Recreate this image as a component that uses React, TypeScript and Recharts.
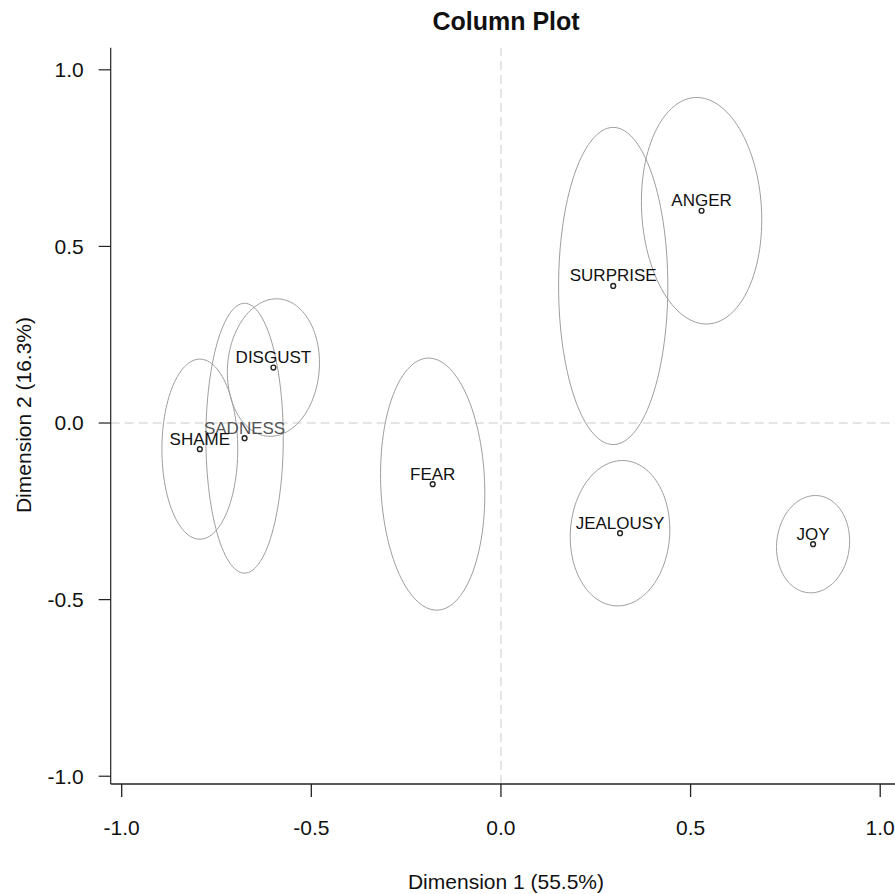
import { ScatterChart, Scatter, XAxis, YAxis, ReferenceLine } from 'recharts'

const FONT = '"Liberation Sans", Arial, sans-serif'

// column coordinates
const categories = ['ANGER', 'DISGUST', 'FEAR', 'JEALOUSY', 'JOY', 'SADNESS', 'SHAME', 'SURPRISE']
const dim1 = [0.529, -0.600, -0.180, 0.314, 0.823, -0.676, -0.794, 0.296]
const dim2 = [0.601, 0.157, -0.173, -0.312, -0.343, -0.043, -0.074, 0.388]

// confidence ellipses: semi-axes (data units) and tilt in degrees
const ellipseRx = [0.158, 0.121, 0.137, 0.131, 0.096, 0.102, 0.100, 0.144]
const ellipseRy = [0.321, 0.195, 0.357, 0.206, 0.138, 0.382, 0.255, 0.449]
const ellipseTilt = [3, -4, 2, -3, -5, 0, 0, 0]

const xTicks = [-1, -0.5, 0, 0.5, 1]
const yTicks = [-1, -0.5, 0, 0.5, 1]

const W = 895
const H = 894

const points = categories.map((name, i) => ({ name, x: dim1[i], y: dim2[i] }))

// outline of ellipse i, traced in data space so the chart scales place it
function ellipseOutline(i: number) {
  const n = 120
  const th = (ellipseTilt[i] * Math.PI) / 180
  const out: { x: number; y: number }[] = []
  for (let k = 0; k <= n; k++) {
    const t = (2 * Math.PI * k) / n
    const ex = ellipseRx[i] * Math.cos(t)
    const ey = ellipseRy[i] * Math.sin(t)
    out.push({
      x: dim1[i] + ex * Math.cos(th) - ey * Math.sin(th),
      y: dim2[i] + ex * Math.sin(th) + ey * Math.cos(th),
    })
  }
  return out
}

const NoDot = () => <g />

function PointShape(props: any) {
  const { cx, cy, payload } = props
  const grey = payload.name === 'SADNESS'
  return (
    <g>
      <circle cx={cx} cy={cy} r={2.4} fill="none" stroke="#222" strokeWidth={1.4} />
      <text
        x={cx}
        y={cy - 4.5}
        textAnchor="middle"
        fontSize={17}
        fontFamily={FONT}
        fill={grey ? '#555' : '#111'}
      >
        {payload.name}
      </text>
    </g>
  )
}

export default function App() {
  const tick = { fill: '#111', fontSize: 21, fontFamily: FONT }
  return (
    <div style={{ position: 'absolute', left: 0, top: 0, width: W, height: H, background: '#fff', overflow: 'hidden' }}>
      <ScatterChart
        width={W}
        height={H}
        margin={{ top: 47.7, right: 0, left: 30.7, bottom: 50 }}
      >
        <XAxis
          type="number"
          dataKey="x"
          domain={[-1.029, 1.039]}
          allowDataOverflow
          ticks={xTicks}
          tickFormatter={(v: number) => v.toFixed(1)}
          tick={tick}
          tickSize={13}
          tickMargin={23}
          height={60}
          stroke="#222"
          strokeWidth={1.3}
        />
        <YAxis
          type="number"
          dataKey="y"
          domain={[-1.022, 1.0626]}
          allowDataOverflow
          ticks={yTicks}
          tickFormatter={(v: number) => v.toFixed(1)}
          tick={tick}
          tickSize={12}
          tickMargin={15}
          width={80}
          stroke="#222"
          strokeWidth={1.2}
        />
        <ReferenceLine x={0} stroke="#cccccc" strokeDasharray="9 5" strokeWidth={1} />
        <ReferenceLine y={0} stroke="#cccccc" strokeDasharray="9 5" strokeWidth={1} />
        {categories.map((c, i) => (
          <Scatter
            key={c}
            name={c + ' ellipse'}
            data={ellipseOutline(i)}
            line={{ stroke: '#9e9e9e', strokeWidth: 1 }}
            lineType="joint"
            shape={NoDot}
            isAnimationActive={false}
          />
        ))}
        <Scatter data={points} shape={PointShape} isAnimationActive={false} />
      </ScatterChart>
      <svg
        width={W}
        height={H}
        style={{ position: 'absolute', left: 0, top: 0, pointerEvents: 'none' }}
      >
        <text x={506} y={30} textAnchor="middle" fontSize={25} fontWeight="bold" fontFamily={FONT} fill="#111">
          Column Plot
        </text>
        <text x={506} y={888.5} textAnchor="middle" fontSize={21} fontFamily={FONT} fill="#111">
          Dimension 1 (55.5%)
        </text>
        <text
          transform="translate(30.5,415) rotate(-90)"
          textAnchor="middle"
          fontSize={21}
          fontFamily={FONT}
          fill="#111"
        >
          Dimension 2 (16.3%)
        </text>
      </svg>
    </div>
  )
}
